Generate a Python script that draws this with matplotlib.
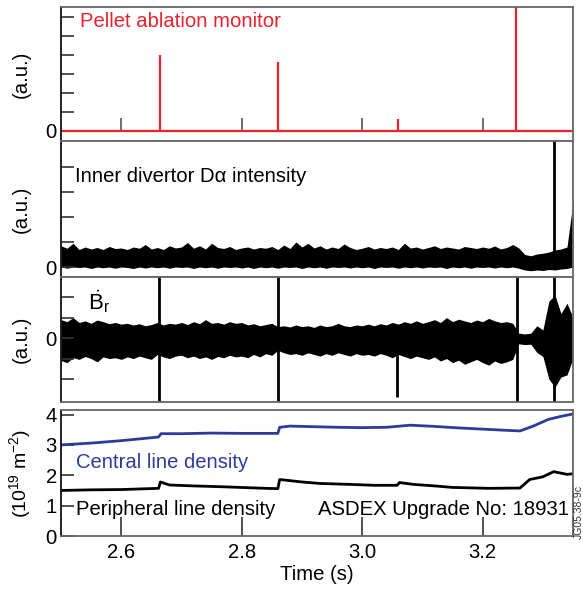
import numpy as np
import matplotlib
matplotlib.use("Agg")
import matplotlib.pyplot as plt

plt.rcParams['font.family'] = ['Liberation Sans', 'DejaVu Sans']
plt.rcParams['mathtext.fontset'] = 'custom'
plt.rcParams['mathtext.rm'] = 'Liberation Sans'
plt.rcParams['mathtext.it'] = 'Liberation Sans'

# ------------------------------------------
# data
# ------------------------------------------
t_min, t_max = 2.5, 3.35
time_ticks = [2.6, 2.8, 3.0, 3.2]

# pellet ablation monitor: spike times / heights (a.u.)
pellet_t = [2.664, 2.861, 3.059, 3.256]
pellet_h = [4.0, 3.6, 0.6, 7.5]

# envelope sample times (every 10 ms)
env_t = np.linspace(2.50, 3.35, 86)

# inner divertor D-alpha: upper / lower edges of the noise band
da_hi = [0.85, 0.75, 0.95, 0.70, 0.80, 0.72, 0.78, 0.70, 0.82, 0.74,
         0.76, 0.70, 0.80, 0.75, 0.90, 0.72, 0.78, 0.70, 0.85, 0.76,
         0.80, 0.98, 0.75, 0.85, 0.72, 0.95, 0.78, 0.74, 0.82, 0.70,
         0.76, 0.80, 0.72, 0.78, 0.75, 0.82, 0.70, 0.88, 0.74, 1.00,
         0.80, 0.95, 0.76, 0.85, 0.72, 0.80, 0.74, 0.92, 0.78, 0.70,
         0.75, 0.82, 0.72, 0.78, 0.74, 0.80, 0.70, 0.95, 0.76, 0.80,
         0.72, 0.78, 0.85, 0.74, 0.80, 0.76, 0.72, 0.82, 0.78, 0.74,
         0.80, 0.75, 0.84, 0.72, 0.78, 0.90, 0.76, 0.50, 0.45, 0.52,
         0.55, 0.60, 0.68, 0.72, 0.80, 2.60]
da_lo = [0.00, -0.05, 0.00, -0.02, 0.00, -0.06, 0.00, -0.03, 0.00, -0.05,
         0.00, -0.02, -0.06, 0.00, -0.04, 0.00, -0.03, 0.00, -0.05, 0.00,
         -0.02, 0.00, -0.06, 0.00, -0.03, 0.00, -0.05, 0.00, -0.02, 0.00,
         -0.04, 0.00, -0.06, 0.00, -0.03, 0.00, -0.05, 0.00, -0.02, 0.00,
         -0.06, 0.00, -0.03, 0.00, -0.05, 0.00, -0.02, 0.00, -0.04, 0.00,
         -0.03, 0.00, -0.06, 0.00, -0.02, 0.00, -0.05, 0.00, -0.03, 0.00,
         -0.04, 0.00, -0.02, 0.00, -0.06, 0.00, -0.03, 0.00, -0.05, 0.00,
         -0.02, 0.00, -0.04, 0.00, -0.03, 0.00, -0.05, -0.12, -0.15, -0.12,
         -0.14, -0.10, -0.12, -0.08, -0.06, 0.00]
da_spike_t = [3.318]

# B_r dot: upper / lower edges of the noise band
br_hi = [0.45, 0.40, 0.50, 0.38, 0.42, 0.36, 0.44, 0.40, 0.35, 0.38,
         0.34, 0.36, 0.32, 0.35, 0.30, 0.33, 0.38, 0.32, 0.36, 0.34,
         0.38, 0.33, 0.40, 0.35, 0.45, 0.36, 0.38, 0.34, 0.40, 0.36,
         0.38, 0.32, 0.35, 0.30, 0.33, 0.36, 0.28, 0.30, 0.27, 0.32,
         0.28, 0.30, 0.26, 0.32, 0.28, 0.30, 0.36, 0.30, 0.28, 0.32,
         0.30, 0.34, 0.30, 0.35, 0.32, 0.38, 0.34, 0.40, 0.36, 0.42,
         0.36, 0.40, 0.45, 0.38, 0.50, 0.40, 0.46, 0.42, 0.38, 0.44,
         0.40, 0.48, 0.42, 0.38, 0.40, 0.36, 0.12, 0.10, 0.12, 0.30,
         0.20, 0.90, 1.05, 0.60, 0.85, 0.50]
br_lo = [-0.55, -0.60, -0.48, -0.52, -0.45, -0.50, -0.58, -0.46, -0.50, -0.48,
         -0.52, -0.46, -0.50, -0.44, -0.48, -0.52, -0.40, -0.46, -0.50, -0.44,
         -0.42, -0.48, -0.44, -0.50, -0.46, -0.52, -0.45, -0.48, -0.42, -0.46,
         -0.44, -0.48, -0.40, -0.46, -0.38, -0.42, -0.30, -0.36, -0.40, -0.38,
         -0.42, -0.36, -0.40, -0.44, -0.38, -0.42, -0.36, -0.40, -0.44, -0.38,
         -0.42, -0.40, -0.44, -0.38, -0.42, -0.48, -0.40, -0.45, -0.50, -0.44,
         -0.48, -0.52, -0.46, -0.56, -0.50, -0.60, -0.54, -0.64, -0.58, -0.52,
         -0.60, -0.66, -0.56, -0.62, -0.58, -0.52, -0.14, -0.16, -0.15, -0.35,
         -0.45, -1.00, -1.20, -0.95, -0.90, -0.50]
br_spike_t = [2.663, 2.861, 3.058, 3.257, 3.318]
br_spike_lo = [-2.0, -2.0, -1.44, -2.0, -2.0]
br_spike_hi = [2.0, 2.0, 0.30, 2.0, 2.0]

# line densities (1e19 m^-2)
core_t = [2.50, 2.55, 2.60, 2.662, 2.666, 2.70, 2.75, 2.80, 2.860, 2.863,
          2.88, 2.92, 2.96, 3.00, 3.04, 3.08, 3.12, 3.16, 3.20, 3.24,
          3.262, 3.284, 3.309, 3.33, 3.35]
core_n = [3.00, 3.06, 3.14, 3.26, 3.37, 3.37, 3.39, 3.38, 3.38, 3.58,
          3.62, 3.60, 3.58, 3.57, 3.58, 3.65, 3.61, 3.56, 3.52, 3.48,
          3.46, 3.62, 3.84, 3.94, 4.02]
edge_t = [2.50, 2.55, 2.60, 2.662, 2.665, 2.68, 2.72, 2.77, 2.84, 2.860,
          2.863, 2.90, 2.93, 2.98, 3.02, 3.058, 3.062, 3.085, 3.12, 3.15,
          3.21, 3.262, 3.278, 3.30, 3.318, 3.34, 3.35]
edge_n = [1.50, 1.52, 1.53, 1.57, 1.78, 1.68, 1.65, 1.62, 1.57, 1.56,
          1.86, 1.78, 1.73, 1.70, 1.67, 1.67, 1.76, 1.70, 1.65, 1.60,
          1.57, 1.58, 1.86, 1.95, 2.12, 2.03, 2.05]

red = '#e8232d'
blue = '#2e3b9a'
fs = 14.6

fig = plt.figure(figsize=(5.83, 5.92), dpi=100)
L, W = 61 / 583, 512 / 583


def panel(top_px, bot_px):
    return fig.add_axes([L, 1 - bot_px / 592, W, (bot_px - top_px) / 592])


def style(ax):
    for s in ax.spines.values():
        s.set_color('#666666')
        s.set_linewidth(1.3)
    ax.spines['left'].set_color('#111111')
    ax.set_xlim(t_min, t_max)
    ax.tick_params(axis='y', direction='in', length=9, width=1.2,
                   color='#333333', labelsize=fs, pad=3)
    ax.tick_params(axis='x', direction='in', length=14, width=1.2,
                   color='#333333', labelsize=fs, pad=5)


# ---- panel 1: pellet monitor
ax1 = panel(7, 141)
style(ax1)
ax1.set_ylim(-0.53, 6.5)
ax1.set_yticks(range(0, 7))
ax1.set_yticklabels(['0'] + [''] * 6)
ax1.set_xticks([])
ax1.vlines(time_ticks, 0, 0.7, color='#555555', lw=1.2)
ax1.axhline(0, color=red, lw=1.6)
ax1.vlines(pellet_t, 0, pellet_h, color=red, lw=1.6)
ax1.text(0.037, 0.89, 'Pellet ablation monitor', color=red, fontsize=fs,
         transform=ax1.transAxes, va='center')
ax1.set_ylabel('(a.u.)', fontsize=fs)
ax1.yaxis.set_label_coords(-0.06, 0.5)

# ---- panel 2: D-alpha
ax2 = panel(141, 277)
style(ax2)
ax2.set_ylim(-0.4, 5.04)
ax2.set_yticks(range(0, 5))
ax2.set_yticklabels(['0'] + [''] * 4)
ax2.set_xticks([])
ax2.fill_between(env_t, da_lo, da_hi, color='black', lw=0)
ax2.vlines(da_spike_t, 0, 6, color='black', lw=2)
ax2.text(0.028, 0.74, 'Inner divertor D\u03b1 intensity', fontsize=fs,
         transform=ax2.transAxes, va='center')
ax2.set_ylabel('(a.u.)', fontsize=fs)
ax2.yaxis.set_label_coords(-0.06, 0.5)

# ---- panel 3: B_r dot
ax3 = panel(277, 402)
style(ax3)
ax3.set_ylim(-1.56, 1.49)
ax3.set_yticks([-1, -0.5, 0, 0.5, 1])
ax3.set_yticklabels(['', '', '0', '', ''])
ax3.set_xticks([])
ax3.fill_between(env_t, br_lo, br_hi, color='black', lw=0)
ax3.vlines(br_spike_t, br_spike_lo, br_spike_hi, color='black', lw=2)
ax3.text(0.052, 0.80, r'$\dot{\mathrm{B}}_\mathrm{r}$', fontsize=16,
         transform=ax3.transAxes, va='center')
ax3.set_ylabel('(a.u.)', fontsize=fs)
ax3.yaxis.set_label_coords(-0.06, 0.5)

# ---- panel 4: densities
ax4 = panel(410, 536)
style(ax4)
ax4.set_ylim(0, 4.15)
ax4.set_yticks(range(0, 5))
ax4.set_xticks(time_ticks)
ax4.set_xticklabels(['%.1f' % v for v in time_ticks])
ax4.plot(core_t, core_n, color=blue, lw=2)
ax4.plot(edge_t, edge_n, color='black', lw=2)
ax4.text(0.03, 0.58, 'Central line density', color=blue, fontsize=fs,
         transform=ax4.transAxes, va='center')
ax4.text(0.03, 0.21, 'Peripheral line density', fontsize=fs,
         transform=ax4.transAxes, va='center')
ax4.text(0.993, 0.21, 'ASDEX Upgrade No: 18931', fontsize=fs,
         transform=ax4.transAxes, va='center', ha='right')
ax4.set_ylabel(r'(10$^{19}$ m$^{-2}$)', fontsize=14)
ax4.yaxis.set_label_coords(-0.055, 0.5)
ax4.set_xlabel('Time (s)', fontsize=fs, labelpad=2)

fig.text(0.992, 0.135, 'JG05.38-9c', rotation=90, fontsize=7.5,
         color='#333333', ha='center', va='center')

fig.savefig('out.png', dpi=100)
